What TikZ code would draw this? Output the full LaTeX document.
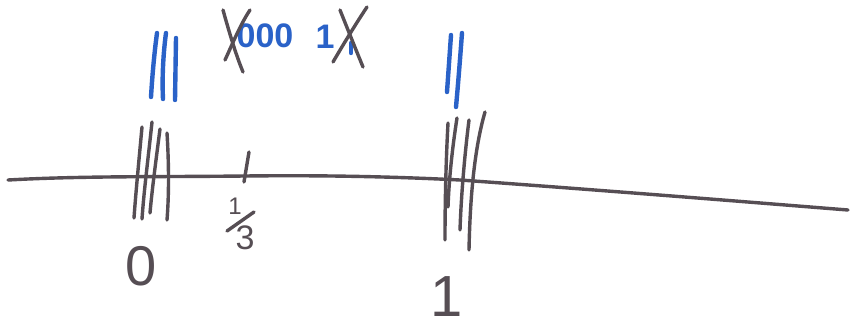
\documentclass[tikz,border=0pt]{standalone}
\usepackage{fontspec}
\setmainfont{Liberation Sans}
\definecolor{ink}{HTML}{564E54}
\definecolor{bink}{HTML}{2A62C8}
\tikzset{
  pen/.style={draw=ink, line width=3.4pt, line cap=round, line join=round},
  bpen/.style={draw=bink, line width=4.4pt, line cap=round, line join=round},
  lab/.style={text=ink, inner sep=0pt, anchor=center},
  blab/.style={text=bink, inner sep=0pt, anchor=center}
}
\begin{document}
\begin{tikzpicture}[x=1pt,y=-1pt]
\useasboundingbox[fill=white] (0,0) rectangle (850,329);
% main number line
\draw[pen] (8,180) .. controls (80,176) and (150,177) .. (245,176)
  .. controls (330,175) and (400,177) .. (460,180)
  .. controls (600,190) and (760,203) .. (848,210);
% tally at 0 (dark)
\draw[pen] (142,127) .. controls (139,160) and (136,190) .. (134,218);
\draw[pen] (152,122) .. controls (148,160) and (144,190) .. (142,219);
\draw[pen] (160,129) .. controls (156,160) and (152,190) .. (150,213);
\draw[pen] (167,133) .. controls (169,165) and (169,195) .. (167,220);
% tally at 0 (blue)
\draw[bpen] (157,33) .. controls (154,55) and (152,80) .. (151,97);
\draw[bpen] (166,33) .. controls (163,55) and (162,80) .. (163,99);
\draw[bpen] (176,38) -- (175,100);
% tally at 1 (dark)
\draw[pen] (448,123) .. controls (446,160) and (445,200) .. (445,240);
\draw[pen] (457,118) .. controls (452,150) and (449,180) .. (448,207);
\draw[pen] (469,120) .. controls (464,160) and (461,200) .. (460,230);
\draw[pen] (485,112) .. controls (474,150) and (470,200) .. (469,250);
% tally at 1 (blue)
\draw[bpen] (451,35) -- (447,92);
\draw[bpen] (462,33) .. controls (460,60) and (458,85) .. (456,107);
% tick at 1/3
\draw[pen] (249,152) -- (244,182);
% labels
\node[lab, font=\fontsize{56}{60}\selectfont] (zero) at (141,266) {0};
\node[lab, font=\fontsize{24}{28}\selectfont] (thirdnum) at (235,206) {1};
\draw[pen] (227,231) -- (254,212);
\node[lab, font=\fontsize{34}{38}\selectfont] (thirdden) at (245,238) {3};
\node[lab, font=\fontsize{58}{62}\selectfont] (one) at (447,297) {1};
% top blue digits
\node[blab, font=\bfseries\fontsize{34}{38}\selectfont] (zeros) at (265,36) {000};
\node[blab, font=\bfseries\fontsize{34}{38}\selectfont] (onetop) at (325,37) {1};
\draw[bpen] (351,43) -- (351,53);
% crossings
\draw[pen] (223,10) .. controls (230,35) and (236,55) .. (243,72);
\draw[pen] (250,10) .. controls (240,25) and (232,45) .. (225,60);
\draw[pen] (340,10) .. controls (348,30) and (356,50) .. (363,67);
\draw[pen] (367,7) .. controls (355,25) and (343,45) .. (333,62);
\end{tikzpicture}
\end{document}
